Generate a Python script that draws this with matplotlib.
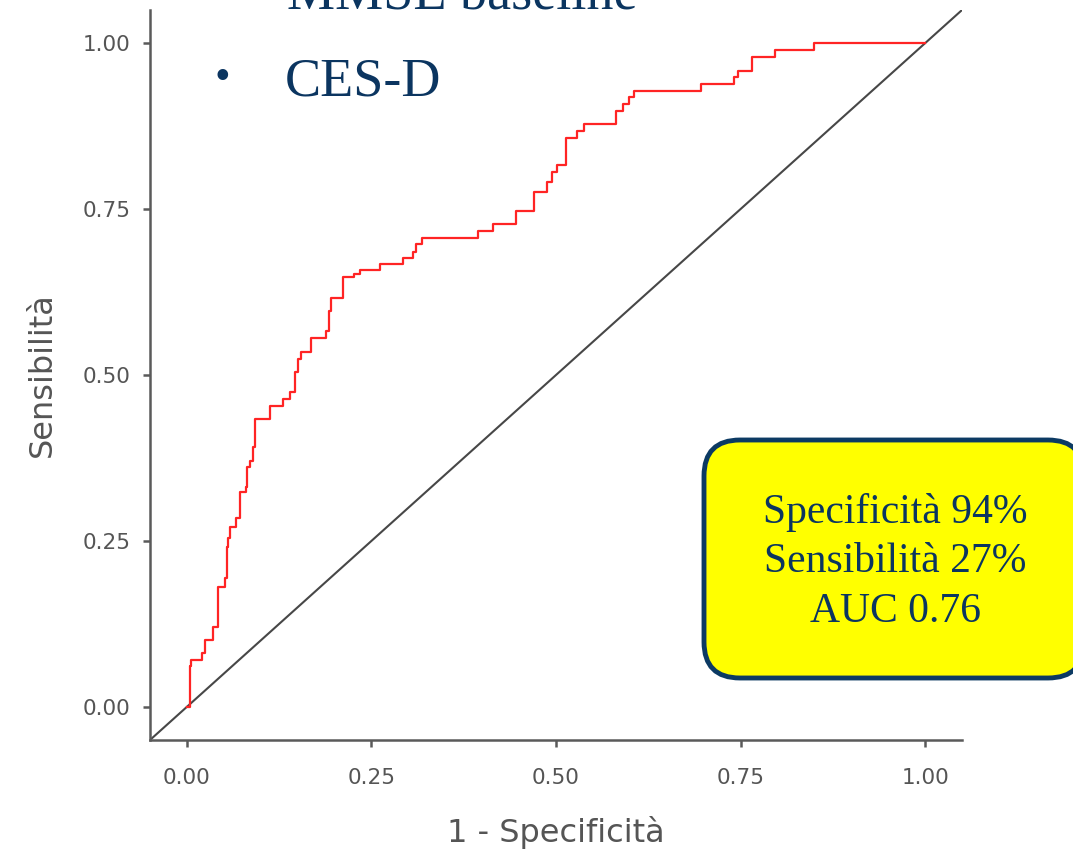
import matplotlib

matplotlib.use("Agg")
import matplotlib.pyplot as plt
from matplotlib.patches import FancyBboxPatch

# ROC curve corners (fpr, tpr), drawn as steps-post
fpr = [0.0, 0.004, 0.006, 0.020, 0.024, 0.036, 0.042, 0.051, 0.054, 0.056,
       0.059, 0.066, 0.072, 0.080, 0.082, 0.086, 0.090, 0.092, 0.113, 0.130,
       0.139, 0.147, 0.151, 0.154, 0.168, 0.189, 0.192, 0.195, 0.211, 0.226,
       0.234, 0.261, 0.293, 0.306, 0.310, 0.319, 0.394, 0.415, 0.446, 0.470,
       0.488, 0.494, 0.501, 0.513, 0.528, 0.538, 0.581, 0.591, 0.599, 0.605,
       0.697, 0.741, 0.747, 0.766, 0.797, 0.849, 1.0]
tpr = [0.0, 0.062, 0.071, 0.081, 0.101, 0.121, 0.181, 0.194, 0.241, 0.254,
       0.271, 0.284, 0.324, 0.331, 0.362, 0.371, 0.391, 0.434, 0.454, 0.464,
       0.474, 0.505, 0.524, 0.535, 0.555, 0.567, 0.597, 0.616, 0.647, 0.652,
       0.658, 0.667, 0.677, 0.686, 0.697, 0.707, 0.717, 0.728, 0.747, 0.776,
       0.791, 0.806, 0.817, 0.857, 0.868, 0.878, 0.898, 0.909, 0.919, 0.928,
       0.939, 0.949, 0.958, 0.979, 0.989, 1.0, 1.0]

ticks = [0.0, 0.25, 0.5, 0.75, 1.0]
tick_labels = ["0.00", "0.25", "0.50", "0.75", "1.00"]
x_label = "1 - Specificità"
y_label = "Sensibilità"
box_lines = ["Specificità 94%", "Sensibilità 27%", "AUC 0.76"]
slide_lines = ["MMSE baseline", "CES-D"]

W, H = 1073, 851
NAVY = "#0b3560"
GREY = "#555555"

fig = plt.figure(figsize=(W / 100, H / 100), dpi=100)
ax = fig.add_axes([150 / W, 1 - 740 / H, (962 - 150) / W, (740 - 10) / H])

ax.axline((0, 0), slope=1, color="#474747", lw=1.5, zorder=2)
ax.plot(fpr, tpr, drawstyle="steps-post", color="#ff2424", lw=1.6, zorder=3)

ax.set_xlim(-0.05, 1.05)
ax.set_ylim(-0.05, 1.05)
ax.set_xticks(ticks)
ax.set_xticklabels(tick_labels)
ax.set_yticks(ticks)
ax.set_yticklabels(tick_labels)
for side in ("top", "right"):
    ax.spines[side].set_visible(False)
for side in ("left", "bottom"):
    ax.spines[side].set_color("#5a5a5a")
    ax.spines[side].set_linewidth(1.8)
ax.tick_params(axis="both", colors="#5a5a5a", labelcolor=GREY, length=5,
               width=1.8, labelsize=15.5)
ax.tick_params(axis="x", pad=15)
ax.tick_params(axis="y", pad=9)
ax.set_xlabel(x_label, fontsize=23, color=GREY, labelpad=20)
ax.set_ylabel(y_label, fontsize=23, color=GREY, labelpad=18)

# slide overlay in pixel coordinates
ov = fig.add_axes([0, 0, 1, 1])
ov.set_xlim(0, W)
ov.set_ylim(H, 0)
ov.axis("off")
ov.patch.set_alpha(0)

serif = "Liberation Serif"
ov.text(287, 10, slide_lines[0], fontsize=39, family=serif, color=NAVY,
        va="baseline", ha="left")
ov.text(222, 78, "•", fontsize=32, family=serif, color=NAVY,
        va="center", ha="center")
ov.text(285, 95, slide_lines[1], fontsize=39, family=serif, color=NAVY,
        va="baseline", ha="left")

box = FancyBboxPatch((704, 440), 380, 238,
                     boxstyle="round,pad=0,rounding_size=36",
                     facecolor="#ffff00", edgecolor="#0c3a63", lw=3.5)
ov.add_patch(box)
for i, line in enumerate(box_lines):
    ov.text(895, 512 + 50 * i, line, fontsize=30, family=serif, color=NAVY,
            ha="center", va="center")

fig.savefig("out.png", dpi=100)
plt.close(fig)
